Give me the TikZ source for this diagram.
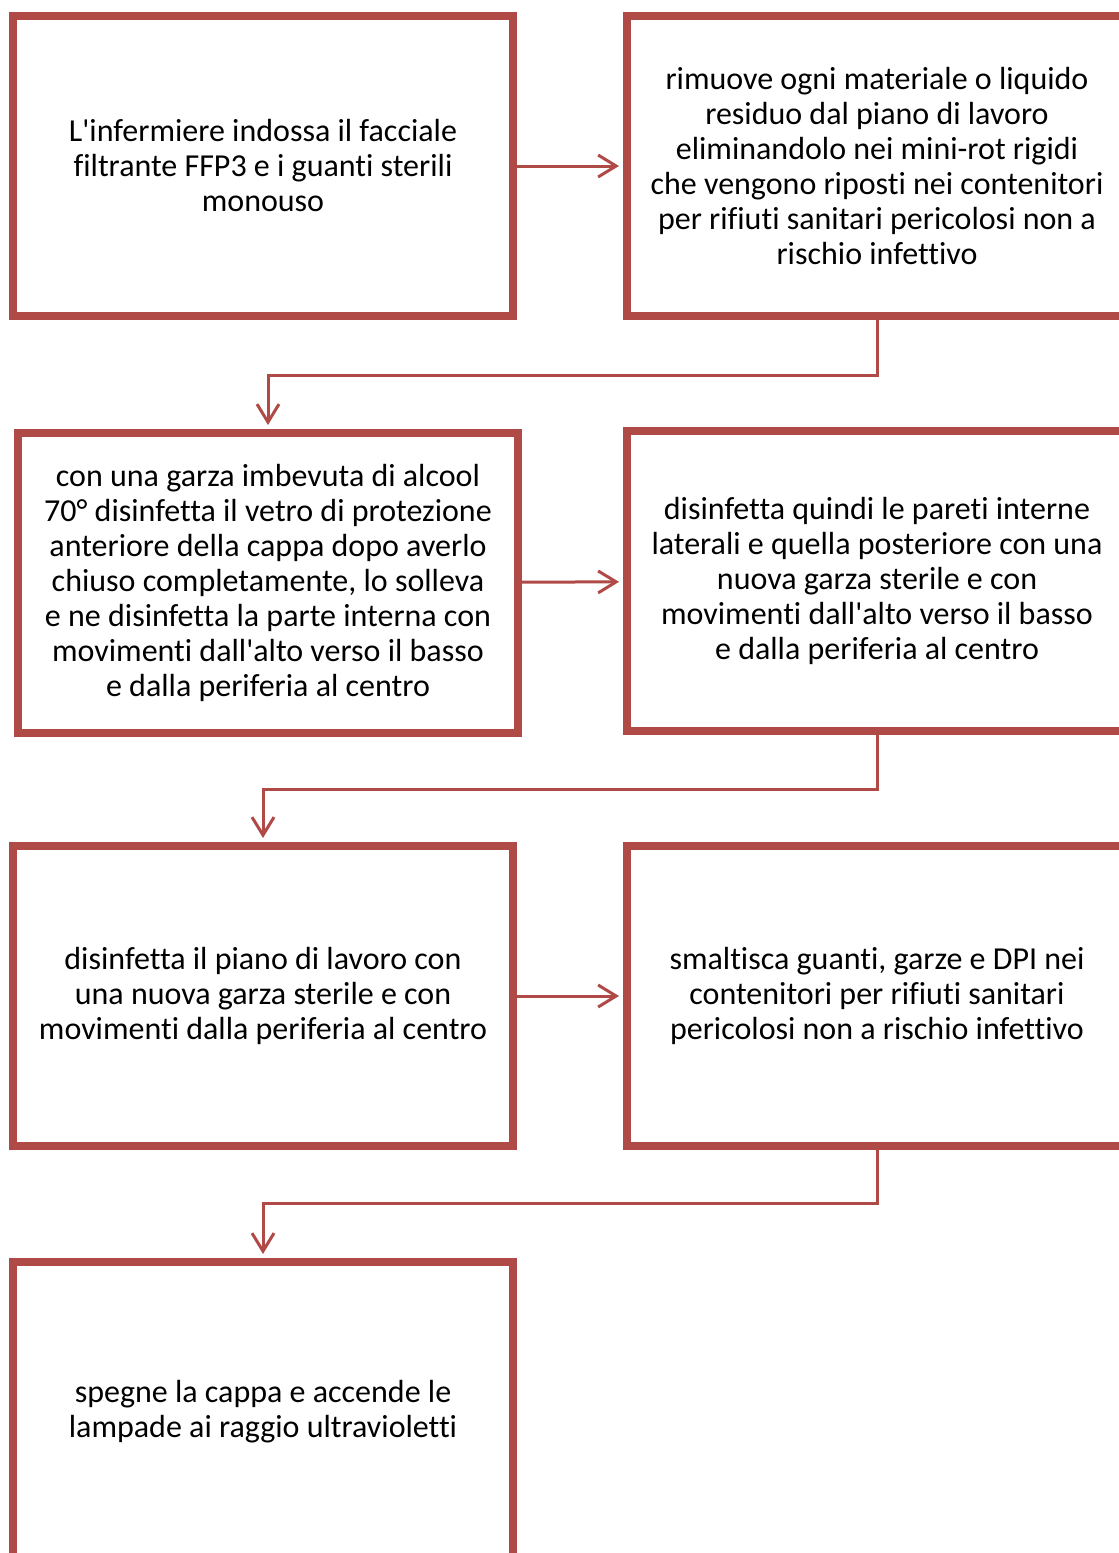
\documentclass[tikz,border=0pt]{standalone}
\usepackage{fontspec}
\setmainfont{Carlito}[Ligatures={NoCommon}]
\usetikzlibrary{arrows.meta}
\usetikzlibrary{calc,positioning}
\definecolor{boxred}{RGB}{176,74,71}

\begin{document}
\begin{tikzpicture}[>={Straight Barb[length=9pt,width=11pt]}, x=0.5pt, y=-0.5pt,
    stepbox/.style={draw=boxred, line width=4pt, minimum width=250pt, minimum height=150pt,
        align=center, font=\fontsize{16}{17.5}\selectfont, inner sep=0pt},
    link/.style={->, draw=boxred, line width=1.5pt}]

    \useasboundingbox (0,0) rectangle (1119,1553);

    \node[stepbox] (infermiere) at (263,166) {L\textquotesingle infermiere indossa il facciale\\filtrante FFP3 e i guanti sterili\\monouso};
    \node[stepbox] (rimuove) at (877,166) {rimuove ogni materiale o liquido\\residuo dal piano di lavoro\\eliminandolo nei mini-rot rigidi\\che vengono riposti nei contenitori\\per rifiuti sanitari pericolosi non a\\rischio infettivo};
    \node[stepbox] (vetro) at (268,583) {con una garza imbevuta di alcool\\70° disinfetta il vetro di protezione\\anteriore della cappa dopo averlo\\chiuso completamente, lo solleva\\e ne disinfetta la parte interna con\\movimenti dall\textquotesingle alto verso il basso\\e dalla periferia al centro};
    \node[stepbox] (pareti) at (877,581) {disinfetta quindi le pareti interne\\laterali e quella posteriore con una\\nuova garza sterile e con\\movimenti dall\textquotesingle alto verso il basso\\e dalla periferia al centro};
    \node[stepbox] (piano) at (263,996) {disinfetta il piano di lavoro con\\una nuova garza sterile e con\\movimenti dalla periferia al centro};
    \node[stepbox] (smaltisce) at (877,996) {smaltisca guanti, garze e DPI nei\\contenitori per rifiuti sanitari\\pericolosi non a rischio infettivo};
    \node[stepbox] (lampade) at (263,1412) {spegne la cappa e accende le\\lampade ai raggio ultravioletti};

    \draw[link, shorten >=2pt] (infermiere) -- (rimuove);
    \draw[link, shorten >=2pt] (vetro) -- (pareti);
    \draw[link, shorten >=2pt] (piano) -- (smaltisce);

    \draw[link, shorten >=2pt] (rimuove.south) -- ++(0,55) -| (vetro.north);
    \draw[link, shorten >=2pt] (pareti.south) -- ++(0,54) -| (piano.north);
    \draw[link, shorten >=2pt] (smaltisce.south) -- ++(0,53) -| (lampade.north);

\end{tikzpicture}
\end{document}
